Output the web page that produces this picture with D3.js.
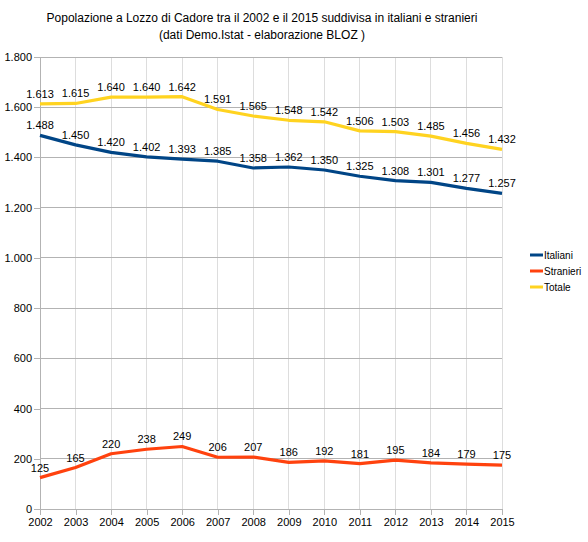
<!DOCTYPE html>
<html><head><meta charset="utf-8">
<script src="https://cdn.jsdelivr.net/npm/d3@7"></script>
<style>body{margin:0;background:#fff}svg{display:block;font-family:"Liberation Sans",Arial,sans-serif}</style>
</head><body><svg id="c" width="588" height="542"></svg>
<script>
const years = [2002,2003,2004,2005,2006,2007,2008,2009,2010,2011,2012,2013,2014,2015];
const italiani = [1488,1450,1420,1402,1393,1385,1358,1362,1350,1325,1308,1301,1277,1257];
const stranieri = [125,165,220,238,249,206,207,186,192,181,195,184,179,175];
const totale = [1613,1615,1640,1640,1642,1591,1565,1548,1542,1506,1503,1485,1456,1432];
const yTicks = [0,200,400,600,800,1000,1200,1400,1600,1800];
const seriesNames = ["Italiani","Stranieri","Totale"];
const colors = ["#004586","#ff420e","#ffd320"];
const titleLines = ["Popolazione a Lozzo di Cadore tra il 2002 e il 2015 suddivisa in italiani e stranieri","(dati Demo.Istat  - elaborazione BLOZ )"];

const svg = d3.select("#c");
const x = d3.scalePoint().domain(years).range([40,502]);
const y = d3.scaleLinear().domain([0,1800]).range([509,57]);
const fmt = d3.formatLocale({decimal:",",thousands:".",grouping:[3],currency:["","€"]}).format(",d");

// title
svg.append("g").selectAll("text").data(titleLines).join("text")
  .attr("x",262).attr("y",(d,i)=>22+i*17).attr("text-anchor","middle")
  .attr("font-size",12).attr("fill","#000").text(d=>d);

// vertical grid
svg.append("g").selectAll("line").data(years.slice(1)).join("line")
  .attr("x1",d=>x(d)).attr("x2",d=>x(d)).attr("y1",57).attr("y2",509)
  .attr("stroke","#dddddd").attr("stroke-width",1).attr("shape-rendering","crispEdges");
// horizontal grid
svg.append("g").selectAll("line").data(yTicks.slice(1)).join("line")
  .attr("x1",40).attr("x2",502).attr("y1",d=>y(d)).attr("y2",d=>y(d))
  .attr("stroke","#b3b3b3").attr("stroke-width",1).attr("shape-rendering","crispEdges");

// axes
const yAxis = d3.axisLeft(y).tickValues(yTicks).tickFormat(fmt).tickSize(6).tickPadding(2);
const gy = svg.append("g").attr("transform","translate(40,0)").call(yAxis);
const xAxis = d3.axisBottom(x).tickSize(6).tickPadding(3).tickFormat(d3.format("d"));
const gx = svg.append("g").attr("transform","translate(0,509)").call(xAxis);
[gx,gy].forEach(g=>{
  g.selectAll("path,line").attr("stroke","#b3b3b3").attr("shape-rendering","crispEdges");
  g.selectAll("text").attr("font-size",11).attr("fill","#000").attr("font-family","Liberation Sans,Arial,sans-serif");
});
gx.select(".domain").attr("d","M40,0H502");

const data = [italiani,stranieri,totale];
const line = d3.line().x((d,i)=>x(years[i])).y(d=>y(d));
data.forEach((vals,k)=>{
  svg.append("path").datum(vals).attr("d",line).attr("fill","none")
    .attr("stroke",colors[k]).attr("stroke-width",3.2).attr("stroke-linejoin","round");
});
data.forEach((vals,k)=>{
  svg.append("g").selectAll("text").data(vals).join("text")
    .attr("x",(d,i)=>x(years[i])).attr("y",d=>y(d)-6)
    .attr("text-anchor","middle").attr("font-size",11).attr("fill","#000")
    .text(d=>fmt(d));
});

// legend
const lg = svg.append("g");
seriesNames.forEach((n,i)=>{
  const yy = 255+i*16;
  lg.append("line").attr("x1",530).attr("x2",543).attr("y1",yy).attr("y2",yy)
    .attr("stroke",colors[i]).attr("stroke-width",3);
  lg.append("text").attr("x",544).attr("y",yy+3.5).attr("font-size",10).attr("fill","#000").text(n);
});
</script></body></html>
